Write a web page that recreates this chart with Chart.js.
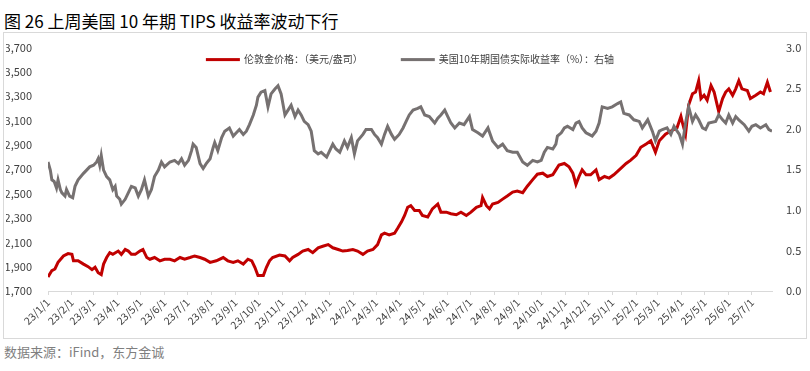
<!DOCTYPE html>
<html>
<head>
<meta charset="utf-8">
<script src="https://cdn.jsdelivr.net/npm/chart.js"></script>
<style>
  body { margin: 0; background: #fff; width: 810px; height: 371px; position: relative; overflow: hidden; }
  #title { position: absolute; left: 4px; top: 8px; font: 17px "Noto Sans CJK SC"; color: #000; white-space: nowrap; }
  #box { position: absolute; left: 3px; top: 32px; width: 802px; height: 305px; border: 1px solid #d9d9d9; }
  #src { position: absolute; left: 4px; top: 342px; font: 13px "Noto Sans CJK SC"; color: #7f7f7f; }
</style>
</head>
<body>
<div id="title">图 26 上周美国 10 年期 TIPS 收益率波动下行</div>
<div id="box"><canvas id="myChart"></canvas></div>
<div id="src">数据来源：iFind，东方金诚</div>

<script>
// month labels on the x axis (yy/m/1)
const monthLabels = ['23/1/1','23/2/1','23/3/1','23/4/1','23/5/1','23/6/1','23/7/1','23/8/1','23/9/1','23/10/1','23/11/1','23/12/1',
  '24/1/1','24/2/1','24/3/1','24/4/1','24/5/1','24/6/1','24/7/1','24/8/1','24/9/1','24/10/1','24/11/1','24/12/1',
  '25/1/1','25/2/1','25/3/1','25/4/1','25/5/1','25/6/1','25/7/1'];

// London gold price (USD/oz), x = days since 2023-01-01
const goldDays = [0,5,9,13,20,26,31,33,39,46,52,57,61,65,69,72,76,80,84,91,95,100,104,108,113,119,123,128,132,138,145,151,158,164,171,177,184,190,197,203,210,218,227,233,240,246,253,259,264,268,272,279,283,287,291,300,307,313,317,324,330,337,343,350,356,363,369,376,382,388,395,401,408,414,421,427,432,436,442,449,453,458,462,466,470,475,481,485,492,498,505,509,516,522,529,535,542,548,555,561,563,568,572,576,583,589,595,602,608,615,621,628,634,641,647,654,658,662,669,675,680,684,688,692,697,703,710,714,721,727,733,740,749,755,762,768,775,781,787,792,800,807,811,815,820,822,826,830,835,839,843,846,850,854,859,863,867,869,874,878,882,887,891,895,899,906,910,917,923,927,932,936];
const goldPrice = [1815,1868,1881,1935,1988,2007,2001,1948,1948,1921,1900,1875,1895,1850,1835,1921,1975,2015,2001,2028,2001,2041,2028,2001,2001,2028,2041,1975,1961,1975,1948,1961,1961,1948,1975,1961,1975,1988,1975,1961,1935,1948,1975,1948,1935,1948,1921,1961,1948,1895,1828,1828,1895,1948,1975,1996,1988,1948,1975,2001,2028,2041,2015,2055,2068,2081,2055,2041,2028,2033,2041,2028,2001,2028,2041,2081,2161,2175,2161,2175,2215,2268,2321,2388,2401,2361,2361,2321,2308,2375,2415,2348,2348,2335,2327,2348,2321,2348,2388,2401,2468,2401,2375,2415,2428,2455,2481,2513,2521,2508,2561,2615,2660,2668,2641,2655,2695,2735,2748,2721,2668,2575,2641,2695,2655,2655,2695,2615,2641,2628,2655,2695,2748,2775,2815,2881,2908,2935,2841,2935,2988,3015,3028,3041,3135,3081,2988,3228,3321,3335,3428,3281,3308,3268,3388,3335,3228,3175,3281,3335,3361,3308,3361,3428,3361,3348,3281,3308,3335,3321,3415,3335];

// US 10Y real (TIPS) yield, %, right axis
const yieldDays = [0,3,5,8,11,13,16,18,22,24,28,32,35,39,46,50,54,59,63,65,67,69,72,76,80,84,87,89,93,95,100,104,108,113,117,121,125,130,134,138,143,147,151,158,164,169,173,177,182,186,188,192,197,201,205,210,214,216,220,225,229,235,240,244,248,253,257,261,266,270,272,276,281,283,285,289,294,298,302,307,311,315,320,324,328,332,337,341,345,350,354,361,365,369,373,378,384,388,393,397,401,408,412,419,423,427,432,436,440,445,449,455,460,464,468,473,479,483,488,494,501,505,509,514,518,522,527,533,539,546,550,557,563,570,576,583,589,595,602,608,615,621,628,634,639,643,647,654,658,660,665,669,673,680,684,688,692,697,701,705,710,714,718,725,731,738,742,746,753,759,766,770,777,783,787,792,796,802,807,811,818,822,826,830,835,839,843,848,852,856,865,869,874,878,882,887,891,895,902,908,912,917,923,930,934,938];
const yieldPct = [1.59,1.49,1.37,1.35,1.27,1.37,1.25,1.21,1.17,1.25,1.17,1.15,1.29,1.37,1.45,1.49,1.53,1.55,1.59,1.63,1.55,1.67,1.49,1.41,1.37,1.25,1.29,1.17,1.13,1.07,1.13,1.21,1.29,1.27,1.17,1.25,1.37,1.17,1.25,1.41,1.49,1.59,1.53,1.59,1.61,1.57,1.63,1.55,1.61,1.73,1.81,1.77,1.57,1.51,1.57,1.63,1.77,1.83,1.73,1.89,1.97,2.01,1.91,1.95,1.99,1.93,1.97,2.05,2.17,2.29,2.39,2.45,2.47,2.37,2.27,2.43,2.49,2.53,2.43,2.17,2.23,2.29,2.15,2.23,2.17,2.09,2.05,1.97,1.73,1.69,1.71,1.65,1.73,1.81,1.75,1.71,1.85,1.77,1.89,1.69,1.85,1.93,1.99,1.99,1.93,1.89,1.81,1.93,2.03,1.93,1.87,1.93,2.01,2.09,2.17,2.23,2.25,2.27,2.17,2.15,2.07,2.13,2.17,2.23,2.15,2.07,2.01,2.07,2.05,2.15,1.99,1.95,1.91,2.01,1.85,1.77,1.81,1.73,1.71,1.71,1.59,1.55,1.61,1.59,1.61,1.71,1.77,1.75,1.81,1.91,1.95,2.01,2.03,1.99,2.07,2.09,2.01,1.95,1.93,1.91,1.97,2.07,2.27,2.25,2.27,2.31,2.33,2.19,2.17,2.11,2.09,2.01,2.11,1.97,1.85,1.97,1.99,2.01,1.93,2.03,1.93,1.81,2.07,2.27,2.09,2.17,2.11,2.01,1.99,2.07,2.09,2.17,2.11,2.07,2.17,2.07,2.15,2.11,2.05,1.97,2.03,2.05,2.01,2.05,1.99,1.97];

const leftTicks = [1700, 1900, 2100, 2300, 2500, 2700, 2900, 3100, 3300, 3500, 3700];
const rightTicks = [0, 0.5, 1.0, 1.5, 2.0, 2.5, 3.0];

const FONT = '"Noto Sans CJK SC", "Noto Sans", sans-serif';
const DAY = 86400000;
const start = Date.UTC(2023, 0, 1);
const monthDays = monthLabels.map(s => {
  const p = s.split('/');
  return Math.round((Date.UTC(2000 + +p[0], +p[1] - 1, 1) - start) / DAY);
});

// legend drawn inside the plot, centred, like the original
const topLegend = {
  id: 'topLegend',
  afterDraw(chart) {
    const ctx = chart.ctx, area = chart.chartArea;
    ctx.save();
    ctx.font = '10px ' + FONT;
    const items = chart.data.datasets.map(ds => ({
      text: ds.label, color: ds.borderColor, w: 34 + 4 + ctx.measureText(ds.label).width
    }));
    const gap = 38;
    const total = items.reduce((s, it) => s + it.w, 0) + gap * (items.length - 1);
    let x = (area.left + area.right) / 2 - total / 2;
    const y = area.top + 12;
    items.forEach(it => {
      ctx.fillStyle = it.color;
      ctx.fillRect(x, y - 1.5, 34, 3);
      ctx.fillStyle = '#404040';
      ctx.textBaseline = 'middle';
      ctx.fillText(it.text, x + 38, y);
      x += it.w + gap;
    });
    ctx.restore();
  }
};

const ctx = document.getElementById('myChart');
new Chart(ctx, {
  type: 'line',
  data: {
    datasets: [{
      label: '伦敦金价格：（美元/盎司）',
      data: goldDays.map((d, i) => ({x: d, y: goldPrice[i]})),
      borderColor: '#c00000',
      borderWidth: 3,
      pointRadius: 0,
      yAxisID: 'y',
      order: 1
    }, {
      label: '美国10年期国债实际收益率（%）：右轴',
      data: yieldDays.map((d, i) => ({x: d, y: yieldPct[i]})),
      borderColor: '#767171',
      borderWidth: 3,
      pointRadius: 0,
      yAxisID: 'y2',
      order: 0
    }]
  },
  options: {
    responsive: true,
    maintainAspectRatio: false,
    animation: false,
    layout: { padding: { left: 2, right: 0, top: 8, bottom: 0 } },
    plugins: { legend: { display: false }, tooltip: { enabled: false } },
    scales: {
      x: {
        type: 'linear',
        min: 0,
        max: 938,
        afterBuildTicks: s => { s.ticks = monthDays.map(v => ({value: v})); },
        afterFit: s => { s.height = 47; },
        grid: { drawOnChartArea: false, color: '#d9d9d9', tickLength: 4 },
        border: { color: '#d9d9d9' },
        ticks: {
          autoSkip: false,
          minRotation: 45,
          maxRotation: 45,
          padding: 1,
          color: '#404040',
          font: { family: FONT, size: 10.5 },
          callback: v => monthLabels[monthDays.indexOf(v)]
        }
      },
      y: {
        position: 'left',
        min: 1700,
        max: 3700,
        afterBuildTicks: s => { s.ticks = leftTicks.map(v => ({value: v})); },
        afterFit: s => { s.width = 42; },
        grid: { display: false },
        border: { display: false },
        ticks: {
          padding: 8,
          color: '#404040',
          font: { family: FONT, size: 11 },
          callback: v => v.toLocaleString('en-US')
        }
      },
      y2: {
        position: 'right',
        min: 0,
        max: 3,
        afterBuildTicks: s => { s.ticks = rightTicks.map(v => ({value: v})); },
        afterFit: s => { s.width = 34; },
        grid: { display: false },
        border: { display: false },
        ticks: {
          padding: 6,
          color: '#404040',
          font: { family: FONT, size: 11 },
          callback: v => v.toFixed(1)
        }
      }
    }
  },
  plugins: [topLegend]
});
</script>
</body>
</html>
